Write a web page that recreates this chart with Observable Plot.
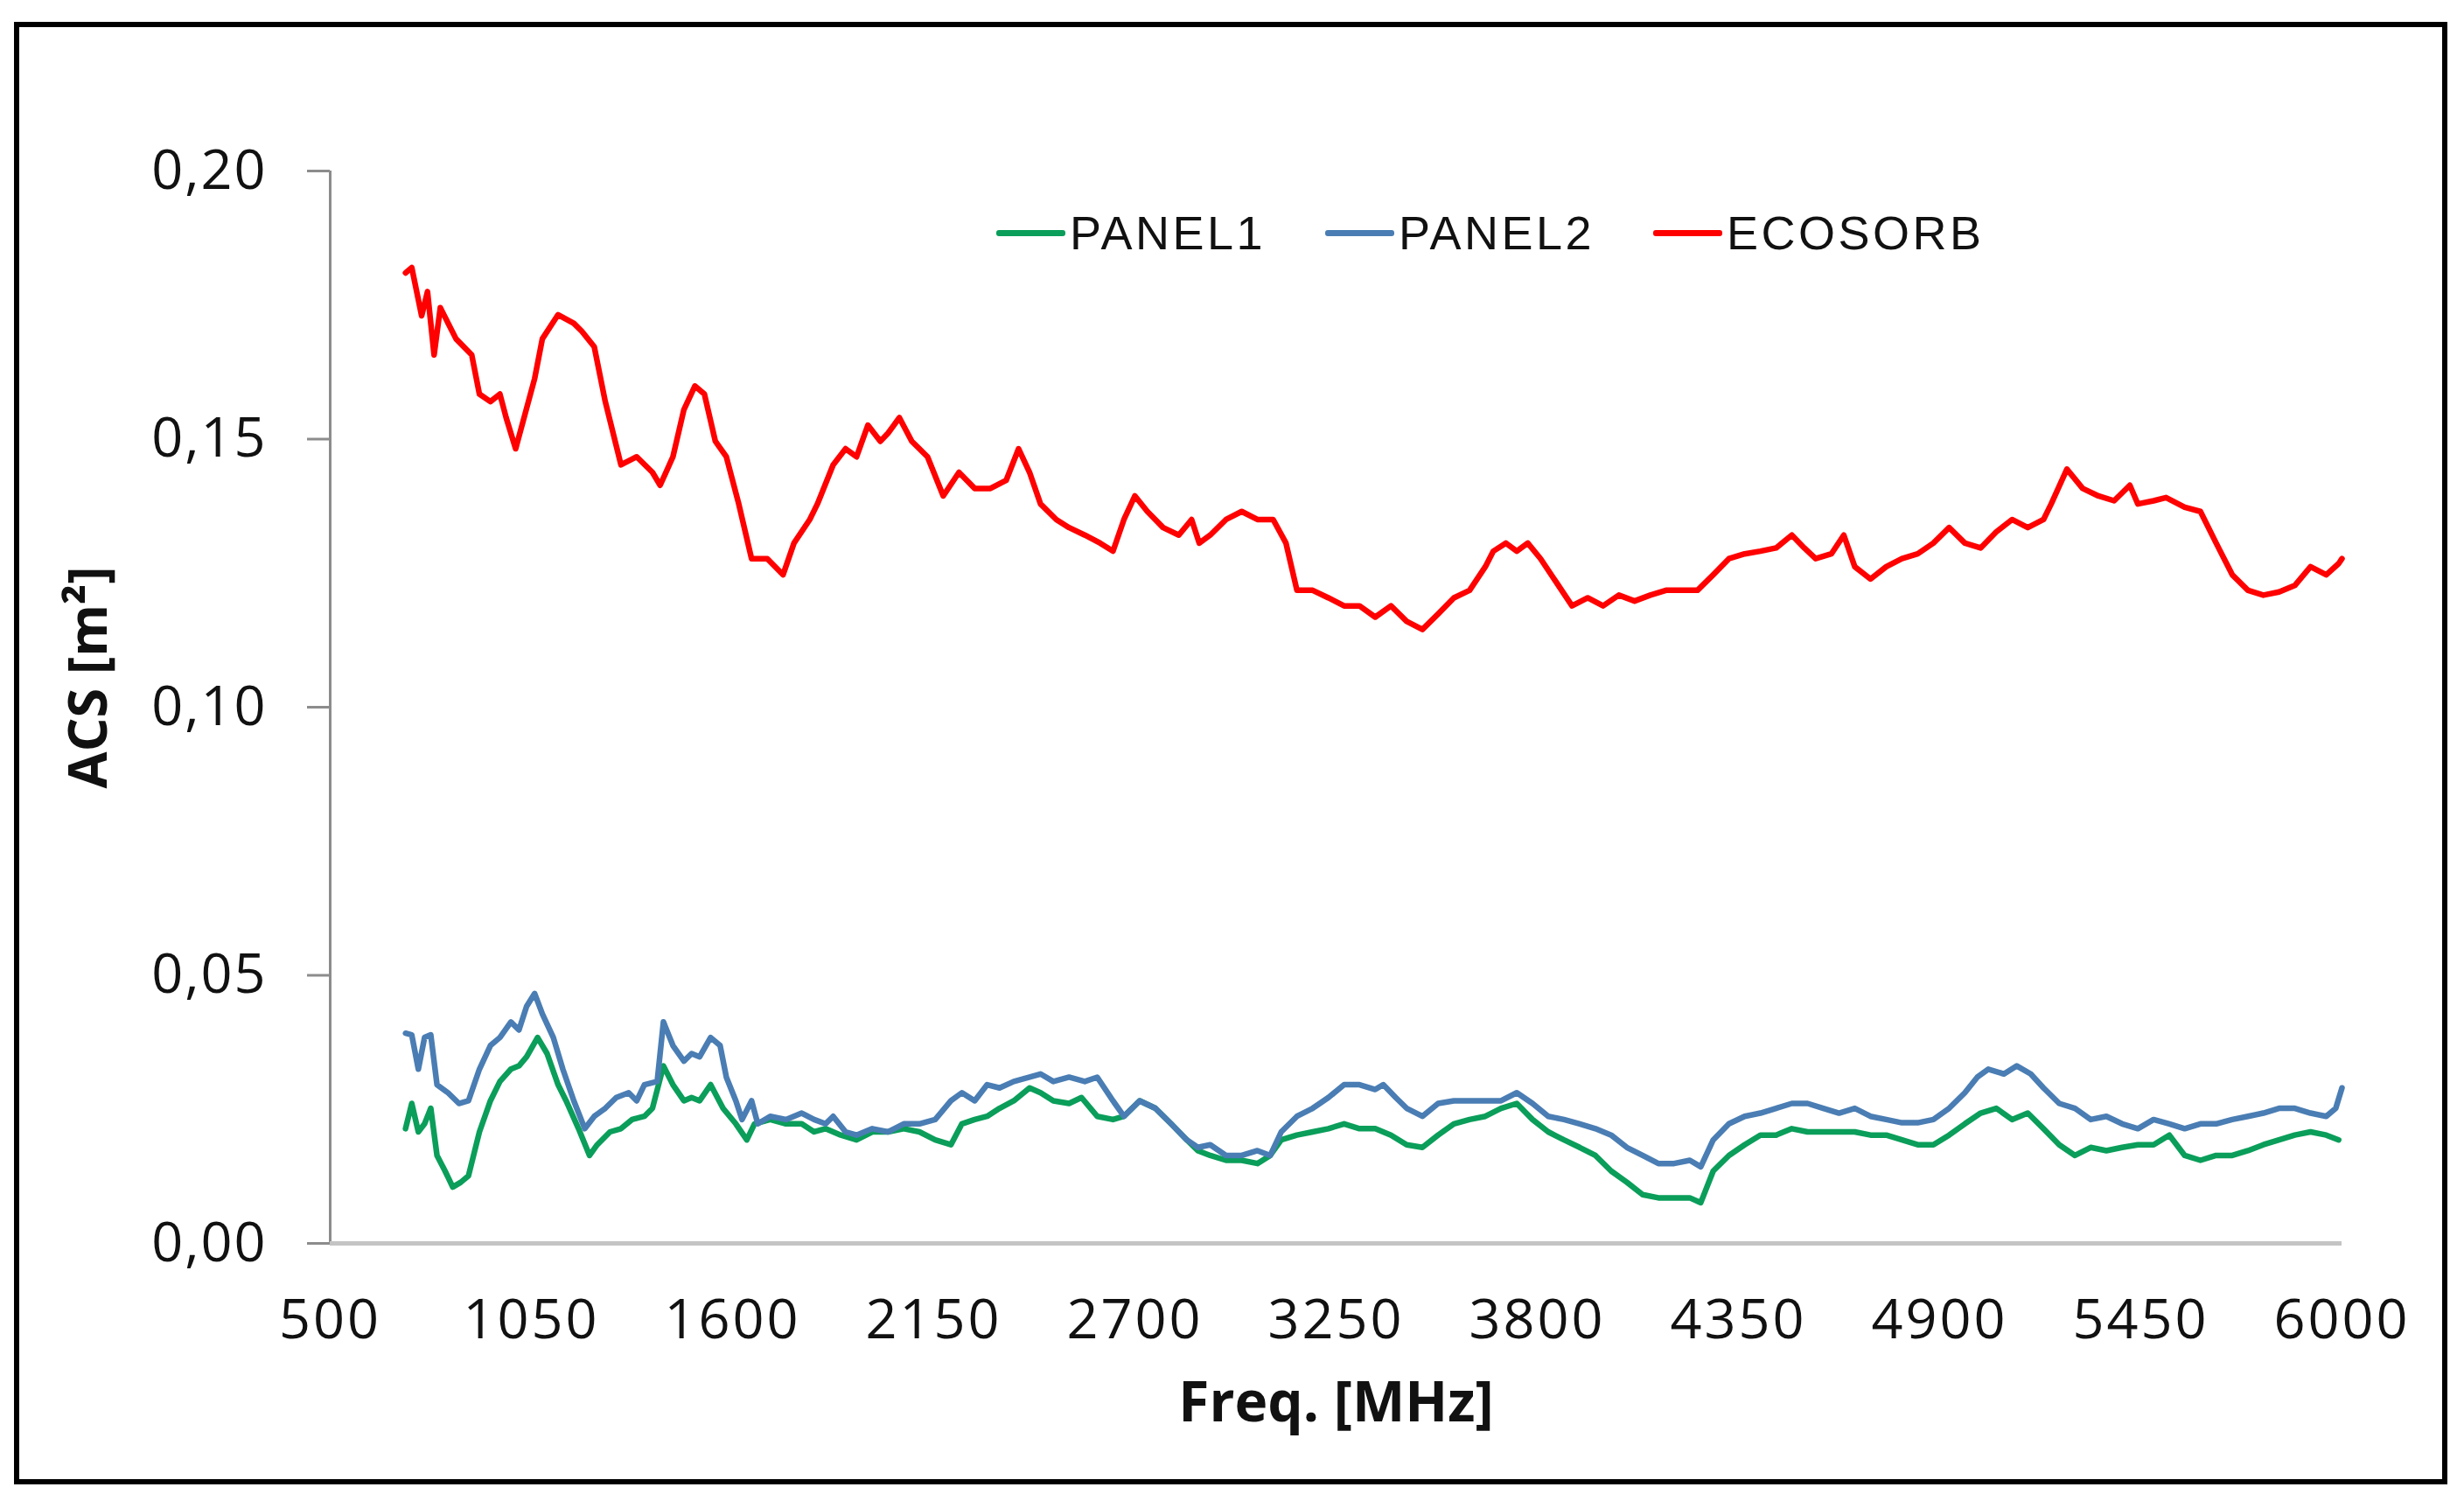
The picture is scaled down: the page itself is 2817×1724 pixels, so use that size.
<!DOCTYPE html>
<html>
<head>
<meta charset="utf-8">
<script src="https://cdn.jsdelivr.net/npm/d3@7"></script>
<script src="https://cdn.jsdelivr.net/npm/@observablehq/plot@0.6"></script>
<style>
  html, body { margin: 0; padding: 0; background: #fff; }
  #wrap { position: relative; width: 2817px; height: 1724px; background: #fff; overflow: hidden; }
  #wrap svg { position: absolute; left: 0; top: 0; }
  #wrap svg g[aria-label="x-axis tick label"] text { letter-spacing: 3px; }
  #wrap svg g[aria-label="y-axis tick label"] text { letter-spacing: 2px; }
  #frame { position: absolute; left: 16px; top: 25px; width: 2770px; height: 1660px; border: 6px solid #000; pointer-events: none; }
  .leg { position: absolute; top: 236px; height: 60px; display: flex; align-items: center; font-family: "Liberation Sans", Arial, sans-serif; font-size: 54px; letter-spacing: 3.5px; color: #111; }
  .leg .sw { width: 79px; height: 7px; border-radius: 3px; margin-right: 5px; }
</style>
</head>
<body>
<div id="wrap">
  <div id="frame"></div>
</div>
<script>
// ---- Data ----
const seriesNames = ["PANEL1", "PANEL2", "ECOSORB"];
const seriesColors = ["#0a9e5a", "#4a7db3", "#ff0000"];

const xTicks = [500, 1050, 1600, 2150, 2700, 3250, 3800, 4350, 4900, 5450, 6000];
const yTicks = [0, 0.05, 0.10, 0.15, 0.20];

// ECOSORB
const freqEco = [
  706, 723, 750, 766, 784, 801, 844, 887, 908, 938,
  964, 981, 1007, 1059, 1080, 1123, 1166, 1188, 1222, 1252,
  1295, 1338, 1381, 1402, 1437, 1467, 1497, 1523, 1553, 1583,
  1617, 1652, 1695, 1738, 1768, 1811, 1832, 1875, 1909, 1939,
  1970, 2004, 2025, 2056, 2090, 2133, 2176, 2219, 2262, 2305,
  2348, 2382, 2412, 2442, 2485, 2520, 2563, 2605, 2640, 2670,
  2700, 2734, 2777, 2820, 2855, 2876, 2906, 2949, 2992, 3035,
  3078, 3113, 3143, 3186, 3229, 3272, 3314, 3357, 3400, 3443,
  3486, 3529, 3572, 3615, 3658, 3680, 3714, 3744, 3774, 3809,
  3852, 3895, 3938, 3980, 4023, 4066, 4109, 4152, 4195, 4238,
  4281, 4324, 4367, 4410, 4453, 4496, 4530, 4561, 4604, 4638,
  4668, 4711, 4754, 4797, 4840, 4883, 4926, 4969, 5012, 5055,
  5098, 5141, 5184, 5205, 5248, 5291, 5334, 5377, 5420, 5442,
  5485, 5519, 5570, 5613, 5656, 5700, 5743, 5785, 5828, 5871,
  5914, 5957, 5991, 6000
];
const acsEco = [
  0.181, 0.182, 0.173, 0.1775, 0.1657, 0.1745, 0.1687, 0.1657, 0.1584, 0.157,
  0.1584, 0.154, 0.1482, 0.1613, 0.1687, 0.1732, 0.1716, 0.1701, 0.1672, 0.157,
  0.1452, 0.1467, 0.1438, 0.1414, 0.1467, 0.1555, 0.1599, 0.1584, 0.1496, 0.1467,
  0.1379, 0.1277, 0.1277, 0.1247, 0.1306, 0.135, 0.1379, 0.1452, 0.1482, 0.1467,
  0.1526, 0.1496, 0.1511, 0.154, 0.1496, 0.1467, 0.1394, 0.1438, 0.1408, 0.1408,
  0.1423, 0.1482, 0.1438, 0.1379, 0.135, 0.1335, 0.1321, 0.1306, 0.1291, 0.135,
  0.1394, 0.1365, 0.1335, 0.1321, 0.135, 0.1306, 0.1321, 0.135, 0.1365, 0.135,
  0.135, 0.1306, 0.1218, 0.1218, 0.1204, 0.1189, 0.1189, 0.1168, 0.1189, 0.116,
  0.1145, 0.1174, 0.1204, 0.1218, 0.1262, 0.1291, 0.1306, 0.1291, 0.1306, 0.1277,
  0.1233, 0.1189, 0.1204, 0.1189, 0.1209, 0.1198, 0.1209, 0.1218, 0.1218, 0.1218,
  0.1247, 0.1277, 0.1286, 0.1291, 0.1297, 0.1321, 0.1297, 0.1277, 0.1286, 0.1321,
  0.1262, 0.1239, 0.1262, 0.1277, 0.1286, 0.1306, 0.1335, 0.1306, 0.1297, 0.1327,
  0.135, 0.1335, 0.135, 0.1379, 0.1444, 0.1408, 0.1394, 0.1385, 0.1414, 0.1379,
  0.1385, 0.1391, 0.1373, 0.1365, 0.1306, 0.1247, 0.1218, 0.1209, 0.1215, 0.1227,
  0.1262, 0.1247, 0.1268, 0.1277
];

// PANEL2
const freqP2 = [
  706, 723, 741, 758, 775, 792, 822, 852, 878, 908,
  938, 964, 994, 1016, 1037, 1059, 1080, 1110, 1136, 1166,
  1196, 1222, 1252, 1282, 1316, 1338, 1359, 1394, 1411, 1437,
  1467, 1488, 1510, 1540, 1566, 1583, 1609, 1626, 1652, 1669,
  1703, 1746, 1789, 1823, 1854, 1875, 1909, 1939, 1982, 2025,
  2068, 2111, 2154, 2197, 2227, 2262, 2296, 2330, 2369, 2412,
  2442, 2477, 2520, 2563, 2597, 2640, 2670, 2713, 2756, 2799,
  2842, 2872, 2906, 2949, 2992, 3035, 3070, 3100, 3143, 3186,
  3229, 3272, 3314, 3357, 3379, 3413, 3443, 3486, 3529, 3572,
  3615, 3658, 3701, 3744, 3787, 3830, 3873, 3916, 3959, 4002,
  4045, 4088, 4131, 4174, 4217, 4247, 4281, 4324, 4367, 4410,
  4453, 4496, 4539, 4582, 4625, 4668, 4711, 4754, 4797, 4840,
  4883, 4926, 4969, 5003, 5033, 5076, 5111, 5149, 5184, 5227,
  5270, 5313, 5356, 5399, 5442, 5485, 5528, 5570, 5613, 5656,
  5700, 5743, 5785, 5828, 5871, 5914, 5957, 5983, 6000
];
const acsP2 = [
  0.0392, 0.0389, 0.0325, 0.0384, 0.0389, 0.0296, 0.0281, 0.0261, 0.0266, 0.0325,
  0.0369, 0.0384, 0.0413, 0.0398, 0.0442, 0.0466, 0.0428, 0.0384, 0.0325, 0.0266,
  0.0214, 0.0237, 0.0252, 0.0272, 0.0281, 0.0266, 0.0296, 0.0302, 0.0413, 0.0369,
  0.034, 0.0354, 0.0348, 0.0384, 0.0369, 0.031, 0.0266, 0.0231, 0.0266, 0.0223,
  0.0237, 0.0231, 0.0243, 0.0231, 0.0223, 0.0237, 0.0208, 0.0202, 0.0214, 0.0208,
  0.0223, 0.0223, 0.0231, 0.0266, 0.0281, 0.0266, 0.0296, 0.029, 0.0302, 0.031,
  0.0316, 0.0302, 0.031, 0.0302, 0.031, 0.0266, 0.0237, 0.0266, 0.0252, 0.0223,
  0.0193, 0.0179, 0.0184, 0.0164, 0.0164, 0.0173, 0.0164, 0.0208, 0.0237, 0.0252,
  0.0272, 0.0296, 0.0296, 0.0287, 0.0296, 0.0272, 0.0252, 0.0237, 0.0261, 0.0266,
  0.0266, 0.0266, 0.0266, 0.0281, 0.0261, 0.0237, 0.0231, 0.0223, 0.0214, 0.0202,
  0.0179, 0.0164, 0.0149, 0.0149, 0.0155, 0.0143, 0.0193, 0.0223, 0.0237, 0.0243,
  0.0252, 0.0261, 0.0261, 0.0252, 0.0243, 0.0252, 0.0237, 0.0231, 0.0225, 0.0225,
  0.0231, 0.0252, 0.0281, 0.031, 0.0325, 0.0316, 0.0331, 0.0316, 0.029, 0.0261,
  0.0252, 0.0231, 0.0237, 0.0223, 0.0214, 0.0231, 0.0223, 0.0214, 0.0223, 0.0223,
  0.0231, 0.0237, 0.0243, 0.0252, 0.0252, 0.0243, 0.0237, 0.0252, 0.029
];

// PANEL1
const freqP1 = [
  706, 723, 741, 758, 775, 792, 814, 835, 857, 878,
  908, 938, 964, 994, 1016, 1037, 1067, 1093, 1123, 1145,
  1179, 1209, 1230, 1265, 1295, 1325, 1359, 1381, 1411, 1437,
  1467, 1488, 1510, 1540, 1574, 1609, 1639, 1660, 1703, 1746,
  1789, 1823, 1854, 1896, 1939, 1982, 2025, 2068, 2111, 2154,
  2197, 2227, 2262, 2296, 2330, 2369, 2412, 2442, 2477, 2520,
  2554, 2597, 2640, 2670, 2713, 2756, 2799, 2842, 2872, 2906,
  2949, 2992, 3035, 3070, 3100, 3143, 3186, 3229, 3272, 3314,
  3357, 3400, 3443, 3486, 3529, 3572, 3615, 3658, 3701, 3744,
  3787, 3830, 3873, 3916, 3959, 4002, 4045, 4088, 4131, 4174,
  4217, 4247, 4281, 4324, 4367, 4410, 4453, 4496, 4539, 4582,
  4625, 4668, 4711, 4754, 4797, 4840, 4883, 4926, 4969, 5012,
  5055, 5098, 5141, 5184, 5227, 5270, 5313, 5356, 5399, 5442,
  5485, 5528, 5570, 5613, 5656, 5700, 5743, 5785, 5828, 5871,
  5914, 5957, 5991
];
const acsP1 = [
  0.0214, 0.0261, 0.0208, 0.0223, 0.0252, 0.0164, 0.0135, 0.0105, 0.0114, 0.0126,
  0.0208, 0.0266, 0.0302, 0.0325, 0.0331, 0.0348, 0.0384, 0.0354, 0.0296, 0.0266,
  0.0214, 0.0164, 0.0184, 0.0208, 0.0214, 0.0231, 0.0237, 0.0252, 0.0331, 0.0296,
  0.0266, 0.0272, 0.0266, 0.0296, 0.0252, 0.0223, 0.0193, 0.0223, 0.0231, 0.0223,
  0.0223, 0.0208, 0.0214, 0.0202, 0.0193, 0.0208, 0.0208, 0.0214, 0.0208, 0.0193,
  0.0184, 0.0223, 0.0231, 0.0237, 0.0252, 0.0266, 0.029, 0.0281, 0.0266, 0.0261,
  0.0272, 0.0237, 0.0231, 0.0237, 0.0266, 0.0252, 0.0223, 0.0193, 0.0173, 0.0164,
  0.0155, 0.0155, 0.0149, 0.0164, 0.0193, 0.0202, 0.0208, 0.0214, 0.0223, 0.0214,
  0.0214, 0.0202, 0.0184, 0.0179, 0.0202, 0.0223, 0.0231, 0.0237, 0.0252, 0.0261,
  0.0231, 0.0208, 0.0193, 0.0179, 0.0164, 0.0135, 0.0114, 0.0091, 0.0085, 0.0085,
  0.0085, 0.0076, 0.0135, 0.0164, 0.0184, 0.0202, 0.0202, 0.0214, 0.0208, 0.0208,
  0.0208, 0.0208, 0.0202, 0.0202, 0.0193, 0.0184, 0.0184, 0.0202, 0.0223, 0.0243,
  0.0252, 0.0231, 0.0243, 0.0214, 0.0184, 0.0164, 0.0179, 0.0173, 0.0179, 0.0184,
  0.0184, 0.0202, 0.0164, 0.0155, 0.0164, 0.0164, 0.0173, 0.0184, 0.0193, 0.0202,
  0.0208, 0.0202, 0.0193
];

// ---- Build tidy rows ----
function rows(name, fs, vs) {
  const n = Math.min(fs.length, vs.length);
  const out = [];
  for (let i = 0; i < n; i++) out.push({series: name, freq: fs[i], acs: vs[i]});
  return out;
}
const dataP1 = rows(seriesNames[0], freqP1, acsP1);
const dataP2 = rows(seriesNames[1], freqP2, acsP2);
const dataEco = rows(seriesNames[2], freqEco, acsEco);

const fmtY = d => d3.format(".2f")(d).replace(".", ",");

const chart = Plot.plot({
  width: 2817,
  height: 1724,
  marginLeft: 377,
  marginRight: 140,
  marginTop: 195,
  marginBottom: 303,
  style: {fontFamily: "'Open Sans', sans-serif", fontSize: "63px", color: "#111", background: "transparent"},
  x: {domain: [500, 6000]},
  y: {domain: [0, 0.2]},
  color: {domain: seriesNames, range: seriesColors},
  marks: [
    Plot.axisY({ticks: yTicks, tickFormat: fmtY, tickSize: 26, tickPadding: 46, stroke: "#8c8c8c", strokeWidth: 3, label: null, fontSize: 63}),
    Plot.axisX({ticks: xTicks, tickFormat: d => String(d), tickSize: 0, tickPadding: 64, label: null, fontSize: 63}),
    Plot.ruleX([500], {stroke: "#8c8c8c", strokeWidth: 3}),
    Plot.ruleY([0], {stroke: "#c4c4c4", strokeWidth: 5, x1: 500, x2: 6000}),
    Plot.line(dataP1, {x: "freq", y: "acs", stroke: "series", strokeWidth: 6.5, strokeLinejoin: "round"}),
    Plot.line(dataP2, {x: "freq", y: "acs", stroke: "series", strokeWidth: 6.5, strokeLinejoin: "round"}),
    Plot.line(dataEco, {x: "freq", y: "acs", stroke: "series", strokeWidth: 6.5, strokeLinejoin: "round"}),
    Plot.text(["ACS [m²]"], {frameAnchor: "left", dx: -275, dy: -34, rotate: -90, textAnchor: "middle", lineAnchor: "middle", fontWeight: "bold", fontSize: 61, fill: "#111"}),
    Plot.text(["Freq. [MHz]"], {frameAnchor: "bottom", dy: 183, textAnchor: "middle", lineAnchor: "middle", fontWeight: "bold", fontSize: 64, fill: "#111"})
  ]
});
const wrap = document.getElementById("wrap");
wrap.insertBefore(chart, wrap.firstChild);

// Legend (HTML, placed at the top of the plot area)
const legendX = [1139, 1515, 1890];
seriesNames.forEach((name, i) => {
  const item = document.createElement("div");
  item.className = "leg";
  item.style.left = legendX[i] + "px";
  const sw = document.createElement("div");
  sw.className = "sw";
  sw.style.background = seriesColors[i];
  const label = document.createElement("span");
  label.textContent = name;
  item.appendChild(sw);
  item.appendChild(label);
  wrap.appendChild(item);
});
</script>
</body>
</html>
